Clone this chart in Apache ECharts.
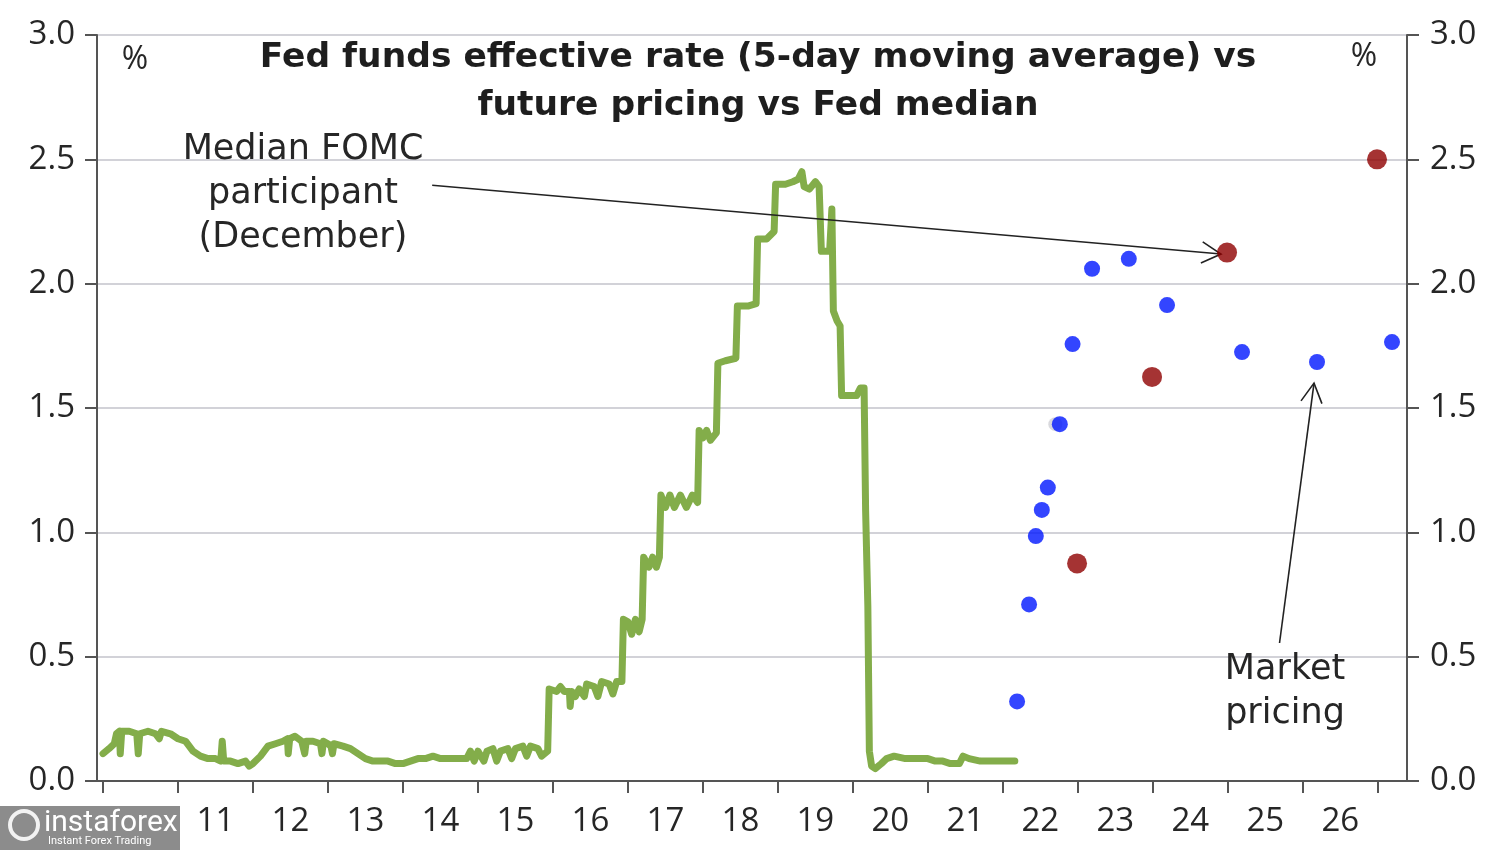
<!DOCTYPE html>
<html>
<head>
<meta charset="utf-8">
<script src="https://cdn.jsdelivr.net/npm/echarts@6/dist/echarts.min.js"></script>
<style>
html,body{margin:0;padding:0;background:#fff;}
#c{width:1500px;height:850px;}
</style>
</head>
<body>
<div id="c"></div>
<script>
// ---- data (years as decimal, values in %) ----
var yearTicks = [2010,2011,2012,2013,2014,2015,2016,2017,2018,2019,2020,2021,2022,2023,2024,2025,2026,2027];
var yearLabels = [2010.5,2011.5,2012.5,2013.5,2014.5,2015.5,2016.5,2017.5,2018.5,2019.5,2020.5,2021.5,2022.5,2023.5,2024.5,2025.5,2026.5];
var yTicks = [0,0.5,1.0,1.5,2.0,2.5,3.0];

var effr = [
 [2010.00,0.11],[2010.08,0.13],[2010.15,0.15],[2010.18,0.19],[2010.22,0.20],[2010.23,0.11],[2010.25,0.20],
 [2010.35,0.20],[2010.45,0.19],[2010.47,0.11],[2010.49,0.19],[2010.6,0.20],[2010.7,0.19],[2010.75,0.17],
 [2010.78,0.20],[2010.9,0.19],[2011.0,0.17],[2011.1,0.16],[2011.2,0.12],[2011.3,0.10],[2011.4,0.09],
 [2011.5,0.09],[2011.57,0.08],[2011.59,0.16],[2011.61,0.08],[2011.7,0.08],[2011.8,0.07],[2011.9,0.08],
 [2011.95,0.06],[2012.0,0.07],[2012.1,0.10],[2012.2,0.14],[2012.3,0.15],[2012.4,0.16],[2012.46,0.17],
 [2012.47,0.11],[2012.49,0.17],[2012.56,0.18],[2012.65,0.16],[2012.69,0.11],[2012.71,0.16],[2012.8,0.16],
 [2012.9,0.15],[2012.92,0.11],[2012.94,0.16],[2013.0,0.15],[2013.04,0.14],[2013.06,0.11],[2013.08,0.15],
 [2013.2,0.14],[2013.3,0.13],[2013.4,0.11],[2013.5,0.09],[2013.6,0.08],[2013.7,0.08],[2013.8,0.08],
 [2013.9,0.07],[2014.0,0.07],[2014.1,0.08],[2014.2,0.09],[2014.3,0.09],[2014.4,0.10],[2014.5,0.09],
 [2014.6,0.09],[2014.7,0.09],[2014.85,0.09],[2014.9,0.12],[2014.95,0.08],[2015.0,0.12],[2015.08,0.08],
 [2015.12,0.12],[2015.2,0.13],[2015.25,0.08],[2015.3,0.12],[2015.4,0.13],[2015.45,0.09],[2015.5,0.13],
 [2015.6,0.14],[2015.65,0.10],[2015.7,0.14],[2015.8,0.13],[2015.85,0.10],[2015.93,0.12],[2015.95,0.37],
 [2016.05,0.36],[2016.1,0.38],[2016.15,0.36],[2016.22,0.36],[2016.23,0.30],[2016.25,0.36],[2016.3,0.34],
 [2016.35,0.37],[2016.42,0.34],[2016.45,0.39],[2016.55,0.38],[2016.6,0.34],[2016.65,0.40],[2016.75,0.39],
 [2016.8,0.35],[2016.85,0.40],[2016.92,0.40],[2016.94,0.65],[2017.0,0.64],[2017.05,0.59],[2017.1,0.65],
 [2017.15,0.60],[2017.19,0.65],[2017.21,0.90],[2017.28,0.86],[2017.33,0.90],[2017.38,0.86],[2017.42,0.90],
 [2017.44,1.15],[2017.5,1.10],[2017.56,1.15],[2017.62,1.10],[2017.7,1.15],[2017.78,1.10],[2017.86,1.15],
 [2017.93,1.12],[2017.95,1.41],[2018.0,1.38],[2018.05,1.41],[2018.1,1.37],[2018.18,1.40],[2018.2,1.68],
 [2018.3,1.69],[2018.44,1.70],[2018.46,1.91],[2018.6,1.91],[2018.71,1.92],[2018.73,2.18],[2018.85,2.18],
 [2018.95,2.21],[2018.97,2.40],[2019.1,2.40],[2019.2,2.41],[2019.27,2.42],[2019.32,2.45],[2019.35,2.39],
 [2019.42,2.38],[2019.5,2.41],[2019.55,2.39],[2019.58,2.13],[2019.69,2.13],[2019.72,2.30],[2019.74,1.89],
 [2019.79,1.85],[2019.83,1.83],[2019.85,1.55],[2019.95,1.55],[2020.05,1.55],[2020.1,1.58],[2020.15,1.58],
 [2020.17,1.09],[2020.2,0.70],[2020.22,0.12],[2020.25,0.06],[2020.3,0.05],[2020.38,0.07],[2020.45,0.09],
 [2020.55,0.10],[2020.7,0.09],[2020.85,0.09],[2021.0,0.09],[2021.1,0.08],[2021.2,0.08],[2021.3,0.07],
 [2021.42,0.07],[2021.47,0.10],[2021.55,0.09],[2021.7,0.08],[2021.85,0.08],[2022.0,0.08],[2022.16,0.08]
];

var marketPricing = [
 [2022.19,0.32],[2022.35,0.71],[2022.44,0.985],[2022.52,1.09],[2022.60,1.18],[2022.76,1.435],
 [2022.93,1.757],[2023.19,2.06],[2023.68,2.10],[2024.19,1.914],[2025.19,1.725],[2026.19,1.685],[2027.19,1.765]
];
var greyPoint = [[2022.70,1.435]];
var fomcMedian = [[2022.99,0.875],[2023.99,1.625],[2024.99,2.125],[2026.99,2.5]];

// annotation arrows: [xStart, yStart, xEnd, yEnd] in data units
var arrows = [
 [2014.39,2.396,2024.91,2.119],
 [2025.69,0.555,2026.15,1.60]
];

var chart = echarts.init(document.getElementById('c'));
var FONT = '"Open Sans", "Noto Sans", sans-serif';
var TFONT = '"DejaVu Sans", "Noto Sans", sans-serif';
var axisColor = '#555';
var labelColor = '#262626';

chart.setOption({
  animation:false,
  backgroundColor:'#ffffff',
  grid:{left:97,right:93,top:35,bottom:69,containLabel:false},
  xAxis:{
    type:'value', min:2009.92, max:2027.39,
    axisLine:{show:true,lineStyle:{color:axisColor,width:2}},
    axisTick:{show:true,customValues:yearTicks,length:12,inside:false,lineStyle:{color:axisColor,width:2}},
    axisLabel:{show:true,customValues:yearLabels,margin:24,color:labelColor,fontSize:33,fontFamily:FONT,
      formatter:function(v){var y=Math.floor(v)%100;return (y<10?'0':'')+y;}},
    splitLine:{show:false}
  },
  yAxis:[{
    type:'value', min:0, max:3, interval:0.5, position:'left',
    axisLine:{show:true,lineStyle:{color:axisColor,width:2}},
    axisTick:{show:true,length:12,lineStyle:{color:axisColor,width:2}},
    axisLabel:{color:labelColor,fontSize:33,fontFamily:FONT,margin:22,formatter:function(v){return v.toFixed(1);}},
    splitLine:{show:true,lineStyle:{color:'#d2d2d8',width:2}}
  },{
    type:'value', min:0, max:3, interval:0.5, position:'right',
    axisLine:{show:true,lineStyle:{color:axisColor,width:2}},
    axisTick:{show:true,length:12,lineStyle:{color:axisColor,width:2}},
    axisLabel:{color:labelColor,fontSize:33,fontFamily:FONT,margin:23,formatter:function(v){return v.toFixed(1);}},
    splitLine:{show:false}
  }],
  series:[
    {type:'line', name:'EFFR', data:effr, showSymbol:false, symbol:'none',
     lineStyle:{color:'#83ad4a',width:7,join:'round',cap:'round'}, z:2},
    {type:'custom', name:'arrows', data:arrows, z:4,
     encode:{x:[0,2],y:[1,3]},
     renderItem:function(params,api){
       var p1=api.coord([api.value(0),api.value(1)]);
       var p2=api.coord([api.value(2),api.value(3)]);
       var ang=Math.atan2(p1[1]-p2[1],p1[0]-p2[0]);
       var L=22, a=0.5;
       var h1=[p2[0]+L*Math.cos(ang+a),p2[1]+L*Math.sin(ang+a)];
       var h2=[p2[0]+L*Math.cos(ang-a),p2[1]+L*Math.sin(ang-a)];
       return {type:'group',children:[
         {type:'line',shape:{x1:p1[0],y1:p1[1],x2:p2[0],y2:p2[1]},style:{stroke:'#222',lineWidth:1.6}},
         {type:'polyline',shape:{points:[h1,p2,h2]},style:{stroke:'#222',lineWidth:1.6,fill:null}}
       ]};
     }},
    {type:'scatter', name:'grey', data:greyPoint, symbolSize:14, itemStyle:{color:'#d0d0d4'}, z:5},
    {type:'scatter', name:'Market pricing', data:marketPricing, symbolSize:16, itemStyle:{color:'#0016ff'}, z:6},
    {type:'scatter', name:'Median FOMC', data:fomcMedian, symbolSize:20, itemStyle:{color:'#8e0000'}, z:6}
  ],
  graphic:[
    {type:'text', x:758, y:34, z:10,
     style:{text:'Fed funds effective rate (5-day moving average) vs\nfuture pricing vs Fed median',
       font:'bold 34.5px '+TFONT, fill:'#1e1e1e', textAlign:'center', lineHeight:48}},
    {type:'text', x:135, y:60, z:10, style:{text:'%',font:'32px '+FONT,fill:labelColor,textAlign:'center',textVerticalAlign:'middle'}},
    {type:'text', x:1364, y:57, z:10, style:{text:'%',font:'32px '+FONT,fill:labelColor,textAlign:'center',textVerticalAlign:'middle'}},
    {type:'text', x:303, y:128, z:10, style:{text:'Median FOMC\nparticipant\n(December)',font:'35px '+TFONT,fill:labelColor,textAlign:'center',lineHeight:44}},
    {type:'text', x:1285, y:648, z:10, style:{text:'Market\npricing',font:'35px '+TFONT,fill:labelColor,textAlign:'center',lineHeight:44}},
    {type:'rect', shape:{x:0,y:806,width:180,height:44}, z:20, style:{fill:'#8c8c8c'}},
    {type:'circle', shape:{cx:24,cy:825,r:14}, z:21, style:{fill:'none',stroke:'#f2f2f2',lineWidth:4}},
    {type:'text', x:44, y:808, z:21, style:{text:'instaforex',font:'30px "Liberation Sans Narrow", "Roboto", sans-serif',fill:'#ffffff'}},
    {type:'text', x:48, y:836, z:21, style:{text:'Instant Forex Trading',font:'11px "Roboto", sans-serif',fill:'#ffffff'}}
  ]
});
</script>
</body>
</html>
